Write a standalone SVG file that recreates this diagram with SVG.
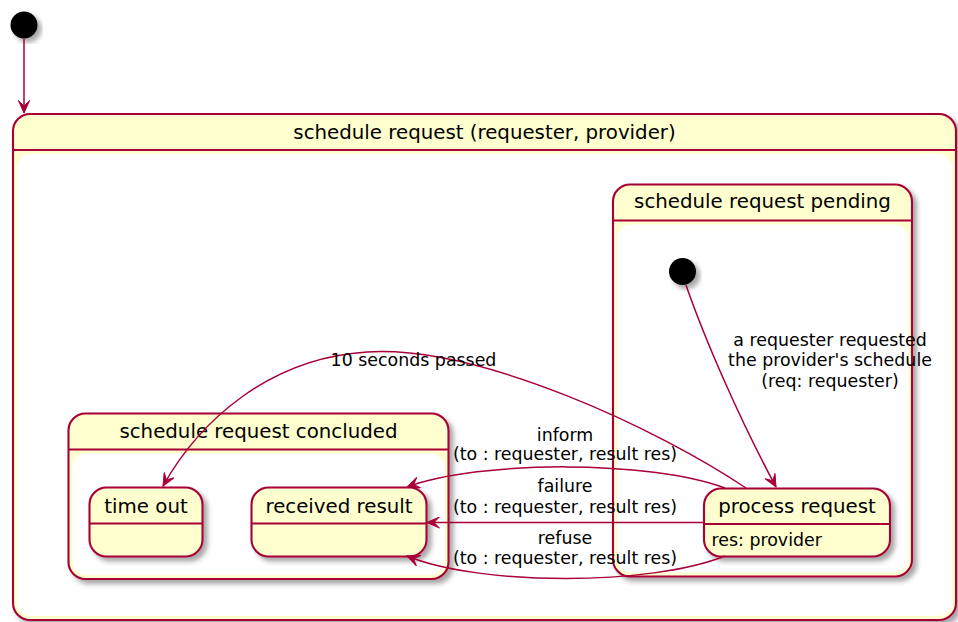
<svg xmlns="http://www.w3.org/2000/svg" width="958" height="622" viewBox="0 0 958 622">
<style>
.st{fill:#FEFECE;stroke:#A80036;stroke-width:2.1}
.in{fill:#FFFFFF;stroke:none}
.sep{stroke:#A80036;stroke-width:2.1}
.nm{font-family:"DejaVu Sans",sans-serif;font-size:19.8px;fill:#000;text-anchor:middle}
.at{font-family:"DejaVu Sans",sans-serif;font-size:17.4px;fill:#000}
.lb{font-family:"DejaVu Sans",sans-serif;font-size:17.4px;fill:#000;text-anchor:middle}
.cn{fill:none;stroke:#A80036;stroke-width:1.5;marker-end:url(#ah)}
</style>
<defs>
<filter id="sh" x="-20%" y="-20%" width="140%" height="140%">
<feDropShadow dx="4" dy="4" stdDeviation="2.5" flood-color="#000" flood-opacity="0.35"/>
</filter>
<marker id="ah" viewBox="-13 -6 14 12" refX="0" refY="0" markerWidth="14" markerHeight="12" markerUnits="userSpaceOnUse" orient="auto">
<path d="M0,0 L-12.5,-5.6 L-7,0 L-12.5,5.6 Z" fill="#A80036" stroke="#A80036" stroke-width="1"/>
</marker>
</defs>

<g id="start">
<circle cx="24" cy="25" r="13.5" fill="#000" filter="url(#sh)"/>
</g>

<g id="schedule_request">
<rect class="st" x="13" y="114" width="943" height="506" rx="17" filter="url(#sh)"/>
<rect class="in" x="17" y="154" width="935" height="462" rx="14"/>
<line class="sep" x1="13" y1="150" x2="956" y2="150"/>
<text class="nm" x="484.5" y="138.5">schedule request (requester, provider)</text>
</g>

<g id="pending">
<rect class="st" x="613" y="184.5" width="299" height="392" rx="17" filter="url(#sh)"/>
<rect class="in" x="617" y="224.5" width="291" height="348" rx="14"/>
<line class="sep" x1="613" y1="220.5" x2="912" y2="220.5"/>
<text class="nm" x="762.5" y="207.5">schedule request pending</text>
</g>

<g id="pending_start">
<circle cx="682.5" cy="271.5" r="13.5" fill="#000" filter="url(#sh)"/>
</g>

<g id="process_request">
<rect class="st" x="704" y="488.5" width="186" height="68" rx="17" filter="url(#sh)"/>
<line class="sep" x1="704" y1="524" x2="890" y2="524"/>
<text class="nm" x="797" y="512.5">process request</text>
<text class="at" x="711.5" y="546">res: provider</text>
</g>

<g id="concluded">
<rect class="st" x="68.5" y="413.5" width="380" height="165.5" rx="17" filter="url(#sh)"/>
<rect class="in" x="72.5" y="453.5" width="372" height="121.5" rx="14"/>
<line class="sep" x1="68.5" y1="449.5" x2="448.5" y2="449.5"/>
<text class="nm" x="258.5" y="437.5">schedule request concluded</text>
</g>

<g id="time_out">
<rect class="st" x="89.5" y="487.5" width="113" height="69" rx="17" filter="url(#sh)"/>
<line class="sep" x1="89.5" y1="523.5" x2="202.5" y2="523.5"/>
<text class="nm" x="146" y="513">time out</text>
</g>

<g id="received_result">
<rect class="st" x="251.5" y="487.5" width="175" height="69" rx="17" filter="url(#sh)"/>
<line class="sep" x1="251.5" y1="523.5" x2="426.5" y2="523.5"/>
<text class="nm" x="339" y="513">received result</text>
</g>

<g id="connectors">
<path class="cn" d="M24,39 L24,113"/>
<path class="cn" d="M686,285 C705,340 740,420 776,487"/>
<path class="cn" d="M746,488 C660,430 480,345 367,352 C270,358 200,420 163,486"/>
<path class="cn" d="M725,488 C650,460 480,460 407,487"/>
<path class="cn" d="M704,522.5 L427,522.5"/>
<path class="cn" d="M725,556 C650,586 480,586 407,556"/>
</g>

<g id="labels">
<text class="lb" x="830" y="345.5">a requester requested</text>
<text class="lb" x="830" y="366">the provider's schedule</text>
<text class="lb" x="830" y="386.5">(req: requester)</text>
<text class="lb" x="413.5" y="366">10 seconds passed</text>
<text class="lb" x="565" y="441">inform</text>
<text class="lb" x="565" y="460">(to : requester, result res)</text>
<text class="lb" x="565" y="492">failure</text>
<text class="lb" x="565" y="512.5">(to : requester, result res)</text>
<text class="lb" x="565" y="544">refuse</text>
<text class="lb" x="565" y="564">(to : requester, result res)</text>
</g>
</svg>
